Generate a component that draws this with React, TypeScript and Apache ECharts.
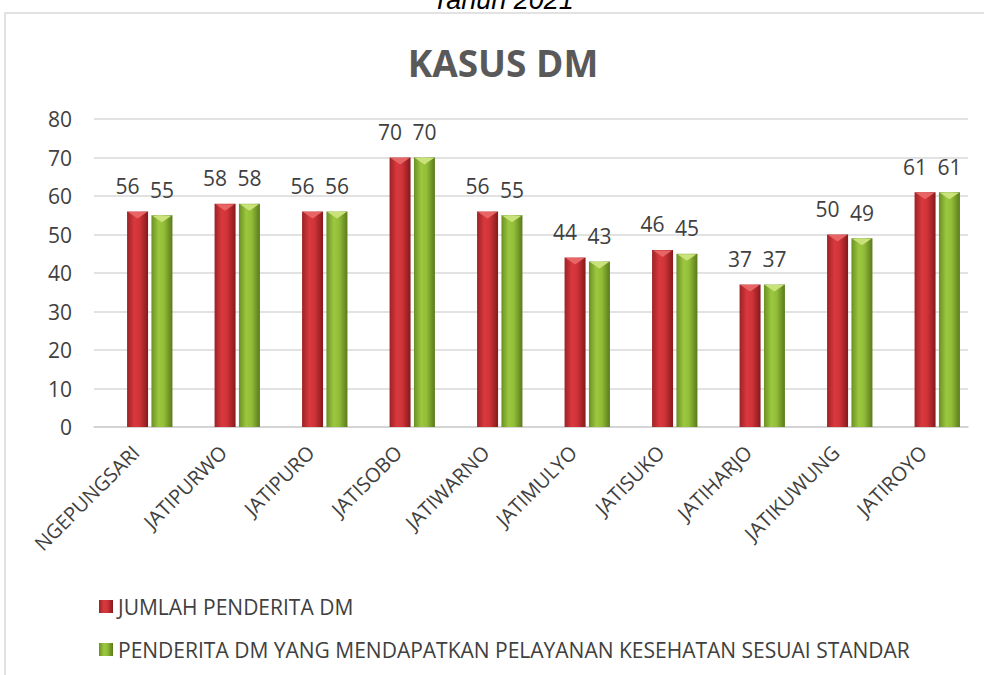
import React, { useEffect, useRef } from "react";
import * as echarts from "echarts";

const categories = [
  "NGEPUNGSARI",
  "JATIPURWO",
  "JATIPURO",
  "JATISOBO",
  "JATIWARNO",
  "JATIMULYO",
  "JATISUKO",
  "JATIHARJO",
  "JATIKUWUNG",
  "JATIROYO",
];
const jumlahPenderita = [56, 58, 56, 70, 56, 44, 46, 37, 50, 61];
const mendapatPelayanan = [55, 58, 56, 70, 55, 43, 45, 37, 49, 61];
const seriesNames = [
  "JUMLAH PENDERITA DM",
  "PENDERITA DM YANG MENDAPATKAN PELAYANAN KESEHATAN SESUAI STANDAR",
];
const yTicks = [0, 10, 20, 30, 40, 50, 60, 70, 80];

const FONT = "'Open Sans', 'Noto Sans', sans-serif";
const BAR_W = 21;
const BAR_GAP = 0.16;

const redGrad = new echarts.graphic.LinearGradient(0, 0, 1, 0, [
  { offset: 0, color: "#9c2226" },
  { offset: 0.35, color: "#d9393e" },
  { offset: 0.6, color: "#cf3338" },
  { offset: 1, color: "#85191c" },
]);
const greenGrad = new echarts.graphic.LinearGradient(0, 0, 1, 0, [
  { offset: 0, color: "#6b8f24" },
  { offset: 0.35, color: "#9cc83f" },
  { offset: 0.6, color: "#92bd38" },
  { offset: 1, color: "#5a7a1b" },
]);

function capSeries(values: number[], side: number, fill: string) {
  const shift = side * (BAR_W * (1 + BAR_GAP)) / 2;
  return {
    type: "custom",
    xAxisIndex: 0,
    yAxisIndex: 0,
    silent: true,
    z: 5,
    data: values.map((v, i) => [i, v]),
    renderItem: (params: any, api: any) => {
      const p = api.coord([api.value(0), api.value(1)]);
      const cx = p[0] + shift;
      const top = p[1];
      const hw = BAR_W / 2 - 1;
      return {
        type: "polygon",
        shape: {
          points: [
            [cx - hw, top + 0.5],
            [cx + hw, top + 0.5],
            [cx, top + 7],
          ],
        },
        style: { fill },
      };
    },
  };
}

export default function App() {
  const ref = useRef<HTMLDivElement>(null);
  useEffect(() => {
    document.body.style.margin = "0";
    const chart = echarts.init(ref.current!, null, { renderer: "svg" });
    const yMin = yTicks[0];
    const yMax = yTicks[yTicks.length - 1];
    const yStep = yTicks[1] - yTicks[0];
    const valueLabel = {
      show: true,
      position: "top",
      distance: 15,
      fontFamily: FONT,
      fontSize: 21,
      color: "#404040",
    };
    chart.setOption({
      animation: false,
      backgroundColor: "#ffffff",
      title: {
        text: "KASUS DM",
        left: 498,
        top: 39,
        textAlign: "center",
        textStyle: {
          fontFamily: FONT,
          fontWeight: "bold",
          fontSize: 37,
          color: "#595959",
        },
      },
      graphic: [
        {
          type: "rect",
          shape: { x: 5, y: 13, width: 1100, height: 800 },
          style: { fill: "none", stroke: "#d9d9d9", lineWidth: 1.5 },
          silent: true,
        },
        {
          type: "text",
          x: 503,
          y: 13,
          style: {
            text: "Tahun 2021",
            fontFamily: "'Liberation Sans', Arial, sans-serif",
            fontStyle: "italic",
            fontSize: 27,
            fill: "#000000",
            align: "center",
            verticalAlign: "bottom",
          },
        },
      ],
      legend: {
        orient: "vertical",
        left: 94,
        top: 591,
        itemWidth: 14,
        itemHeight: 13,
        itemGap: 22,
        icon: "rect",
        data: seriesNames,
        textStyle: { fontFamily: FONT, fontSize: 21, color: "#404040" },
      },
      grid: [
        { left: 106, right: 3, top: 119, bottom: 248, containLabel: false },
        { left: 94, right: 16, top: 119, bottom: 248, containLabel: false },
        { left: 92, right: 17, top: 119, bottom: 248, containLabel: false },
      ],
      xAxis: [
        {
          type: "category",
          gridIndex: 0,
          data: categories,
          axisLine: { show: false },
          axisTick: { show: false },
          axisLabel: { show: false },
        },
        {
          type: "category",
          gridIndex: 1,
          data: categories,
          axisLine: { show: true, lineStyle: { color: "#d0d0d0", width: 1.5 } },
          axisTick: { show: false },
          axisLabel: { show: false },
        },
        {
          type: "category",
          gridIndex: 2,
          data: categories,
          axisLine: { show: false },
          axisTick: { show: false },
          axisLabel: {
            interval: 0,
            rotate: 45,
            margin: 22,
            fontFamily: FONT,
            fontSize: 20,
            color: "#404040",
          },
        },
      ],
      yAxis: [
        {
          type: "value",
          gridIndex: 0,
          min: yMin,
          max: yMax,
          interval: yStep,
          show: false,
          splitLine: { show: false },
        },
        {
          type: "value",
          gridIndex: 1,
          min: yMin,
          max: yMax,
          interval: yStep,
          axisLine: { show: false },
          axisTick: { show: false },
          axisLabel: {
            margin: 22,
            fontFamily: FONT,
            fontSize: 21,
            color: "#404040",
          },
          splitLine: { lineStyle: { color: "#d9d9d9", width: 1.5 } },
        },
        {
          type: "value",
          gridIndex: 2,
          min: yMin,
          max: yMax,
          interval: yStep,
          show: false,
          splitLine: { show: false },
        },
      ],
      series: [
        {
          name: seriesNames[0],
          type: "bar",
          xAxisIndex: 0,
          yAxisIndex: 0,
          data: jumlahPenderita,
          barWidth: BAR_W,
          barGap: BAR_GAP * 100 + "%",
          itemStyle: { color: redGrad },
          label: { ...valueLabel, offset: [-10, 0] },
        },
        {
          name: seriesNames[1],
          type: "bar",
          xAxisIndex: 0,
          yAxisIndex: 0,
          data: mendapatPelayanan,
          barWidth: BAR_W,
          barGap: BAR_GAP * 100 + "%",
          itemStyle: { color: greenGrad },
          label: valueLabel,
        },
        capSeries(jumlahPenderita, -1, "#e86565"),
        capSeries(mendapatPelayanan, 1, "#c9e27a"),
      ],
    });
    return () => chart.dispose();
  }, []);
  return (
    <div
      ref={ref}
      style={{ position: "absolute", left: 0, top: 0, width: 984, height: 675 }}
    />
  );
}
